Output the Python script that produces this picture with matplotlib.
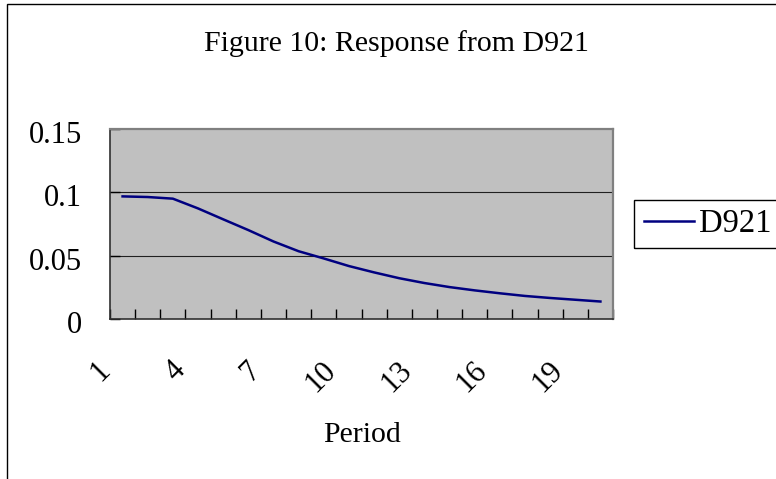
import matplotlib
matplotlib.use("Agg")
import matplotlib.pyplot as plt
from matplotlib.patches import Rectangle
from matplotlib.transforms import ScaledTranslation

plt.rcParams['font.family'] = ['Liberation Serif', 'DejaVu Serif']

# data
periods = list(range(1, 21))
d921 = [0.0968, 0.0963, 0.0950, 0.0873, 0.0787, 0.0702, 0.0612, 0.0535,
        0.0478, 0.0418, 0.0368, 0.0322, 0.0284, 0.0252, 0.0226, 0.0203,
        0.0182, 0.0166, 0.0152, 0.0138]
x_labels = ['1', '4', '7', '10', '13', '16', '19']
y_ticks = [0, 0.05, 0.1, 0.15]
y_labels = ['0', '0.05', '0.1', '0.15']

W, H = 776, 479
fig = plt.figure(figsize=(W / 100, H / 100), dpi=100)

# outer chart border (right/bottom edges fall outside the picture)
fig.patches.append(Rectangle((7 / W, -0.1), 1.2, 1 - 4 / H + 0.1,
                             transform=fig.transFigure, fill=False,
                             edgecolor='black', lw=1.0))

# plot area: x 110..613, y 129..319 (pixels from top)
ax = fig.add_axes([110 / W, (H - 319) / H, (613 - 110) / W, (319 - 129) / H])
ax.set_facecolor('#c0c0c0')

ax.plot(periods, d921, color='#000080', lw=1.8, label='D921')

ax.set_xlim(0.5, 20.5)
ax.set_ylim(0, 0.15)

# grid lines
for yv in y_ticks[1:-1]:
    ax.axhline(yv, color='#202020', lw=0.8, zorder=1)

ax.set_yticks(y_ticks)
ax.set_yticklabels(y_labels)
ax.tick_params(axis='y', direction='in', length=7.5, width=1.0, pad=20,
               labelsize=22, color='black')
for lab in ax.get_yticklabels():
    lab.set_transform(lab.get_transform() +
                      ScaledTranslation(0, -0.03, fig.dpi_scale_trans))

ax.set_xticks([p - 0.5 for p in range(1, 22)], minor=True)
ax.set_xticks(periods[::3])
ax.set_xticklabels(x_labels, rotation=45, ha='right', va='center',
                   rotation_mode='anchor')
ax.tick_params(axis='x', which='major', length=0, pad=0, labelsize=22)
ax.tick_params(axis='x', which='minor', direction='in', length=7.5,
               width=1.0, color='black')
for lab in ax.get_xticklabels():
    lab.set_transform(lab.get_transform() +
                      ScaledTranslation(-0.17, -0.47, fig.dpi_scale_trans))

for side in ['top', 'right']:
    ax.spines[side].set_color('#808080')
    ax.spines[side].set_linewidth(1.6)
for side in ['left', 'bottom']:
    ax.spines[side].set_color('#303030')
    ax.spines[side].set_linewidth(1.2)

ax.set_xlabel('Period', fontsize=21.5, labelpad=0)
ax.xaxis.set_label_coords(0.5, -(435 - 319) / (319 - 129))
ax.xaxis.label.set_va('center')

fig.text(396 / W, 1 - 51 / H, 'Figure 10: Response from D921',
         fontsize=21.5, ha='center', va='baseline')

# legend (its box runs past the right edge)
fig.patches.append(Rectangle((634 / W, (H - 248) / H), 0.3, 48 / H,
                             transform=fig.transFigure, fill=False,
                             edgecolor='black', lw=1.0))
ax.legend(loc='center left', bbox_to_anchor=(634 / W, 1 - 224 / H),
          bbox_transform=fig.transFigure, frameon=False, fontsize=23.5,
          borderaxespad=0, borderpad=0.3, handlelength=1.55,
          handletextpad=0.15)

fig.savefig('out.png', dpi=100)
